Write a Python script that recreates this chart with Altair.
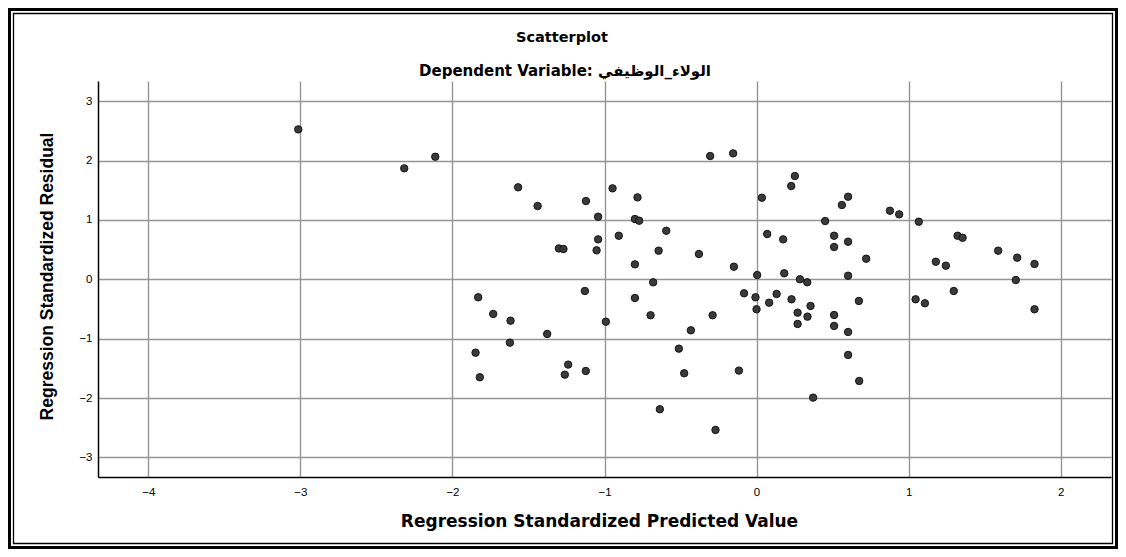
import altair as alt
import pandas as pd

# Regression standardized predicted values (x) and residuals (y)
predicted = [
    -3.014, -2.317, -2.113, -1.568, -1.440, -1.831, -1.732, -1.618, -1.377, -1.622,
    -1.848, -1.820, -0.305, -0.154, 0.252, 0.228, 0.035, -0.947, -1.122, -0.783,
    -1.042, -0.800, -0.772, -0.594, -0.906, -1.042, -1.300, -1.270, -1.052, -0.644,
    -0.379, -0.800, -0.149, 0.004, 0.182, 0.451, 0.561, 0.602, 0.510, 0.510,
    0.602, 0.602, 0.070, 0.175, 0.285, 0.333, -0.680, -1.129, -0.800, -0.697,
    -0.991, -0.432, -0.289, -0.511, -0.476, -0.116, -1.239, -1.261, -1.123, -0.636,
    -0.270, 0.372, -0.082, -0.007, 0.132, 0.083, 0.230, 0.355, 0.000, 0.270,
    0.335, 0.270, 0.510, 0.510, 0.602, 0.602, 0.877, 0.938, 1.067, 0.721,
    0.673, 1.322, 1.355, 1.179, 1.245, 1.589, 1.714, 1.828, 1.705, 1.297,
    1.046, 1.107, 1.828, 0.675,
]
residual = [
    2.525, 1.869, 2.064, 1.549, 1.234, -0.303, -0.584, -0.697, -0.921, -1.067,
    -1.236, -1.650, 2.076, 2.121, 1.739, 1.571, 1.374, 1.532, 1.318, 1.380,
    1.054, 1.015, 0.987, 0.818, 0.734, 0.673, 0.520, 0.510, 0.488, 0.482,
    0.426, 0.252, 0.212, 0.072, 0.101, 0.981, 1.251, 1.391, 0.734, 0.544,
    0.633, 0.060, 0.763, 0.673, 0.000, -0.050, -0.051, -0.197, -0.315, -0.606,
    -0.714, -0.859, -0.606, -1.168, -1.583, -1.538, -1.437, -1.606, -1.544, -2.189,
    -2.537, -1.993, -0.236, -0.303, -0.247, -0.394, -0.337, -0.449, -0.505, -0.562,
    -0.629, -0.752, -0.601, -0.786, -0.887, -1.274, 1.155, 1.094, 0.970, 0.347,
    -0.365, 0.734, 0.700, 0.296, 0.229, 0.482, 0.364, 0.258, -0.012, -0.197,
    -0.337, -0.404, -0.505, -1.712,
]
x_ticks = [-4, -3, -2, -1, 0, 1, 2]
y_ticks = [-3, -2, -1, 0, 1, 2, 3]

title_text = "Scatterplot"
subtitle_text = "Dependent Variable: الولاء_الوظيفي"
x_title = "Regression Standardized Predicted Value"
y_title = "Regression Standardized Residual"

df = pd.DataFrame({"pred": predicted, "resid": residual})
one = pd.DataFrame({"k": [0]})

W, H = 1013, 396
PL, PT, PR, PB = 90, 73, 7, 72
OX, OY = PL + 8, PT + 8  # plot origin in page coordinates

points = alt.Chart(df).mark_circle(
    size=55, fill="#3a3a3a", stroke="#141414", strokeWidth=1, opacity=1
).encode(
    x=alt.X(
        "pred:Q",
        scale=alt.Scale(domain=[-4.331, 2.331], nice=False, zero=False),
        axis=alt.Axis(
            values=x_ticks, title=x_title, grid=True, ticks=False,
            labelPadding=9, labelFontSize=11.5, labelFont="Liberation Sans",
            labelColor="#000", domainColor="#000", domainWidth=1.5,
            gridColor="#959595", gridWidth=1.4,
            titleFont="DejaVu Sans", titleFontSize=17, titleFontWeight="bold",
            titleColor="#000", titleX=501, titleY=44, titleBaseline="middle",
            labelFlush=False,
        ),
    ),
    y=alt.Y(
        "resid:Q",
        scale=alt.Scale(domain=[-3.33, 3.34], nice=False, zero=False),
        axis=alt.Axis(
            values=y_ticks, title=y_title, grid=True, ticks=False,
            labelPadding=6, labelFontSize=11.5, labelFont="Liberation Sans",
            labelColor="#000", domainColor="#000", domainWidth=1.5,
            gridColor="#959595", gridWidth=1.4,
            titleFont="Liberation Sans", titleFontSize=17.5, titleFontWeight="bold",
            titleColor="#000", titleX=-51, titleY=195, titleBaseline="middle",
            labelFlush=False,
        ),
    ),
)

outer = alt.Chart(one).mark_rect(fill=None, fillOpacity=0, stroke="#000", strokeWidth=4).encode(
    x=alt.value(1 - PL), x2=alt.value(1109 - PL),
    y=alt.value(1 - PT), y2=alt.value(540 - PT),
)
inner = alt.Chart(one).mark_rect(fill=None, fillOpacity=0, stroke="#000", strokeWidth=1.3).encode(
    x=alt.value(5.5 - PL), x2=alt.value(1104.5 - PL),
    y=alt.value(5.5 - PT), y2=alt.value(535.5 - PT),
)

title_mark = alt.Chart(one).mark_text(
    font="DejaVu Sans", fontSize=14.5, fontWeight="bold", color="#000",
    align="center", baseline="middle",
).encode(x=alt.value(562 - OX), y=alt.value(38 - OY), text=alt.value(title_text))

subtitle_mark = alt.Chart(one).mark_text(
    font="DejaVu Sans", fontSize=15, fontWeight="bold", color="#000",
    align="center", baseline="middle",
).encode(x=alt.value(565 - OX), y=alt.value(71 - OY), text=alt.value(subtitle_text))

chart = alt.layer(outer, inner, points, title_mark, subtitle_mark).properties(
    width=W, height=H,
    padding={"left": PL, "top": PT, "right": PR, "bottom": PB},
    autosize=alt.AutoSizeParams(type="none"),
    background="white",
).configure_view(stroke=None)

chart.save("out.html", embed_options={"renderer": "svg", "actions": False})
